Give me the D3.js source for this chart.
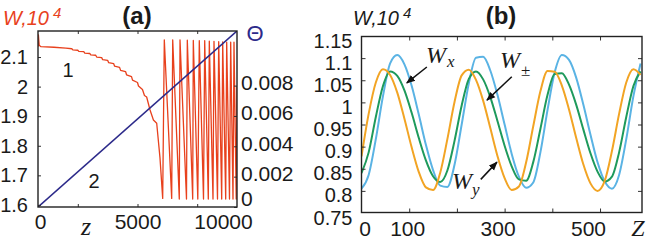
<!DOCTYPE html>
<html><head><meta charset="utf-8">
<script src="https://cdn.jsdelivr.net/npm/d3@7"></script>
<style>
body{margin:0;background:#fff}
svg{display:block}
text{font-family:"Liberation Sans",Arial,sans-serif;fill:#1a1a1a}
</style>
</head><body>
<svg id="c" width="649" height="241"></svg>
<script>
// ---------- Panel (a) data ----------
const redZ = [0,20,60,150,800,1400,1700,1750,2000,2050,2300,2350,2600,2650,2900,2950,3200,3250,3500,3550,3800,3850,4100,4150,4400,4450,4700,4750,5000,5050,5250,5350,5460,5630,5800,5965,6130,6266,6347,6718,6769,7100,7136,7462,7503,7774,7804,8030,8105,8317,8377,8558,8608,8794,8844,9020,9080,9231,9281,9432,9482,9623,9683,9799,9849,9960,10000];
const redW = [2.135,2.175,2.14,2.135,2.133,2.130,2.128,2.124,2.123,2.119,2.118,2.113,2.112,2.107,2.106,2.100,2.098,2.091,2.089,2.081,2.078,2.069,2.065,2.055,2.051,2.040,2.034,2.022,2.014,2.002,1.99,1.97,1.965,1.921,1.887,1.876,1.759,1.622,2.158,1.622,2.158,1.62,2.158,1.62,2.157,1.62,2.156,1.62,2.155,1.62,2.155,1.62,2.154,1.62,2.153,1.62,2.152,1.62,2.151,1.62,2.15,1.62,2.15,1.62,2.15,1.62,2.0];
const thetaZ = [0,10000];
const thetaV = [0,0.0116];
const aXLabels = [0,5000,10000];
const aXMinor = [2000,5000,8000];
const aYTicks = [1.6,1.7,1.8,1.9,2,2.1];
const aThetaTicks = [0,0.002,0.004,0.006,0.008];

// ---------- Panel (b) data ----------
const bZ = [0,15,30,45,60,75,90,105,120,135,150,165,180,195,210,225,240,255,270,285,300,315,330,345,360,375,390,405,420,435,450,465,480,495,510,525,540,555,570,585];
const wX = [0.805,0.836,0.917,1.014,1.088,1.107,1.086,1.038,0.973,0.904,0.847,0.812,0.809,0.859,0.950,1.043,1.101,1.103,1.072,1.017,0.950,0.883,0.832,0.807,0.819,0.887,0.983,1.068,1.107,1.096,1.056,0.995,0.927,0.864,0.821,0.805,0.836,0.917,1.014,1.088];
const wPM = [0.840,0.887,0.967,1.037,1.070,1.060,1.027,0.977,0.920,0.869,0.833,0.820,0.846,0.913,0.993,1.053,1.070,1.052,1.012,0.958,0.902,0.855,0.826,0.823,0.865,0.940,1.017,1.064,1.066,1.040,0.995,0.939,0.885,0.843,0.821,0.832,0.887,0.967,1.037,1.070];
const wY = [0.878,0.974,1.045,1.075,1.062,1.022,0.963,0.899,0.843,0.808,0.802,0.841,0.917,1.001,1.061,1.074,1.051,1.004,0.942,0.879,0.829,0.802,0.810,0.864,0.946,1.025,1.071,1.069,1.038,0.984,0.920,0.860,0.817,0.800,0.823,0.890,0.974,1.045,1.075,1.062];
const bYTicks = [0.75,0.8,0.85,0.9,0.95,1,1.05,1.1,1.15];
const bXLabels = [0,100,300,500];
const bXMinor = [100,200,300,400,500];
// arrows: [label, tailZ, tailW, headZ, headW]
const arrows = [["x",137,1.080,95,1.044],["pm",315,1.058,263,1.005],["y",250,0.826,284,0.865]];

const svg = d3.select("#c");
const C = {red:"#e8411d", navy:"#2c2a8a", blue:"#5ab3e4", green:"#1e9a5c", orange:"#f2a424"};

// ---------- Panel (a) ----------
const xa = d3.scaleLinear().domain([0,10000]).range([38,237]);
const ya = d3.scaleLinear().domain([1.593,2.188]).range([207,31]);
const ta = d3.scaleLinear().domain([0,0.0116]).range([207,31]);

const defs = svg.append("defs");
defs.append("clipPath").attr("id","ca").append("rect").attr("x",38).attr("y",31).attr("width",199).attr("height",176);
defs.append("clipPath").attr("id","cb").append("rect").attr("x",361.5).attr("y",36.5).attr("width",280.5).attr("height",176);
defs.append("marker").attr("id","ah").attr("viewBox","0 0 10 10").attr("refX",9).attr("refY",5)
  .attr("markerWidth",9).attr("markerHeight",9).attr("orient","auto").attr("markerUnits","userSpaceOnUse")
  .append("path").attr("d","M0,1 L10,5 L0,9 Z").attr("fill","#111");

const ga = svg.append("g");
ga.append("g").attr("clip-path","url(#ca)").append("path")
  .datum(redZ.map((z,i)=>[z,redW[i]]))
  .attr("d",d3.line().x(d=>xa(d[0])).y(d=>ya(d[1])))
  .attr("fill","none").attr("stroke",C.red).attr("stroke-width",1.3).attr("stroke-linejoin","round");
ga.append("g").attr("clip-path","url(#ca)").append("path")
  .datum(thetaZ.map((z,i)=>[z,thetaV[i]]))
  .attr("d",d3.line().x(d=>xa(d[0])).y(d=>ta(d[1])))
  .attr("fill","none").attr("stroke",C.navy).attr("stroke-width",1.6);

function styleAxis(g, fs){
  g.select(".domain").remove();
  g.selectAll(".tick line").attr("stroke","#333").attr("stroke-width",1);
  g.selectAll(".tick text").attr("font-size",fs).attr("fill","#1a1a1a").attr("font-family","'Liberation Sans',Arial,sans-serif");
}
// left
const aL = ga.append("g").attr("transform","translate(38,0)")
  .call(d3.axisLeft(ya).tickValues(aYTicks).tickFormat(d=>String(d)).tickSize(-3).tickPadding(10));
styleAxis(aL,20);
// right theta
const aR = ga.append("g").attr("transform","translate(237,0)")
  .call(d3.axisRight(ta).tickValues(aThetaTicks).tickFormat(d=>d===0?"0":d.toFixed(3)).tickSize(-3).tickPadding(4));
styleAxis(aR,21);
aR.selectAll(".tick text").attr("dy","0.18em");
aR.selectAll(".tick text").filter(d=>d===0).attr("dy","-0.05em");
// bottom labels
const aB = ga.append("g").attr("transform","translate(0,207)")
  .call(d3.axisBottom(xa).tickValues(aXLabels).tickFormat(d=>String(d)).tickSize(0).tickPadding(7));
styleAxis(aB,21);
aB.selectAll(".tick text").filter(d=>d===10000).attr("dx",-14);
aB.selectAll(".tick text").filter(d=>d===0).attr("dx",2);
const aBm = ga.append("g").attr("transform","translate(0,207)")
  .call(d3.axisBottom(xa).tickValues(aXMinor).tickFormat("").tickSize(-3));
styleAxis(aBm,10);
const aTm = ga.append("g").attr("transform","translate(0,31)")
  .call(d3.axisTop(xa).tickValues(aXMinor).tickFormat("").tickSize(-3));
styleAxis(aTm,10);
ga.append("rect").attr("x",38).attr("y",31).attr("width",199).attr("height",176)
  .attr("fill","none").attr("stroke","#222").attr("stroke-width",1.4);

// texts panel a
const ta1 = ga.append("text").attr("x",3).attr("y",25).attr("font-size",20).attr("font-style","italic").style("fill",C.red);
ta1.append("tspan").text("W,10");
ta1.append("tspan").attr("dx",4).attr("dy",-7).attr("font-size",15).text("4");
ga.append("text").attr("x",137).attr("y",24).attr("text-anchor","middle").attr("font-size",24).attr("font-weight","bold").text("(a)");
ga.append("text").attr("x",255).attr("y",41).attr("text-anchor","middle").attr("font-size",22).style("fill",C.navy).text("Θ");
ga.append("text").attr("x",68).attr("y",77).attr("text-anchor","middle").attr("font-size",20).text("1");
ga.append("text").attr("x",94).attr("y",188).attr("text-anchor","middle").attr("font-size",20).text("2");
ga.append("text").attr("x",86).attr("y",235).attr("text-anchor","middle").attr("font-size",26)
  .attr("font-style","italic").style("font-family","'Liberation Serif',serif").text("z");

// ---------- Panel (b) ----------
const xb = d3.scaleLinear().domain([0,588]).range([361.5,642]);
const yb = d3.scaleLinear().domain([0.75,1.15]).range([213,36]);
const gb = svg.append("g");
const lineB = d3.line().x((d,i)=>xb(bZ[i])).y(d=>yb(d)).curve(d3.curveMonotoneX);
const cb = gb.append("g").attr("clip-path","url(#cb)");
[[wX,C.blue],[wPM,C.green],[wY,C.orange]].forEach(([s,col])=>{
  cb.append("path").datum(s).attr("d",lineB).attr("fill","none").attr("stroke",col).attr("stroke-width",2).attr("stroke-linejoin","round");
});

const bL = gb.append("g").attr("transform","translate(361.5,0)")
  .call(d3.axisLeft(yb).tickValues(bYTicks).tickFormat(d=>String(d)).tickSize(-4).tickPadding(9));
styleAxis(bL,20);
bL.selectAll(".tick text").attr("dy","0.55em");
bL.selectAll(".tick").filter(d=>d===0.75||d===1.15).select("line").remove();
const bR = gb.append("g").attr("transform","translate(642,0)")
  .call(d3.axisRight(yb).tickValues(bYTicks.slice(1,-1)).tickFormat("").tickSize(-4));
styleAxis(bR,10);
const bB = gb.append("g").attr("transform","translate(0,212.5)")
  .call(d3.axisBottom(xb).tickValues(bXLabels).tickFormat(d=>String(d)).tickSize(0).tickPadding(9));
styleAxis(bB,21);
const bdx = {0:3,100:-2,300:-7,500:-12};
bB.selectAll(".tick text").attr("dx",d=>bdx[d]);
const bBm = gb.append("g").attr("transform","translate(0,212.5)")
  .call(d3.axisBottom(xb).tickValues(bXMinor).tickFormat("").tickSize(-4));
styleAxis(bBm,10);
const bTm = gb.append("g").attr("transform","translate(0,36.5)")
  .call(d3.axisTop(xb).tickValues(bXMinor).tickFormat("").tickSize(-4));
styleAxis(bTm,10);
gb.append("rect").attr("x",361.5).attr("y",36.5).attr("width",280.5).attr("height",176)
  .attr("fill","none").attr("stroke","#222").attr("stroke-width",1.4);

const tb1 = gb.append("text").attr("x",353).attr("y",25).attr("font-size",20).attr("font-style","italic");
tb1.append("tspan").text("W,10");
tb1.append("tspan").attr("dx",4).attr("dy",-7).attr("font-size",15).text("4");
gb.append("text").attr("x",501).attr("y",24).attr("text-anchor","middle").attr("font-size",24).attr("font-weight","bold").text("(b)");
gb.append("text").attr("x",638).attr("y",236).attr("text-anchor","middle").attr("font-size",24)
  .attr("font-style","italic").style("font-family","'Liberation Serif',serif").text("Z");

// arrows
arrows.forEach(a=>{
  gb.append("line").attr("x1",xb(a[1])).attr("y1",yb(a[2])).attr("x2",xb(a[3])).attr("y2",yb(a[4]))
    .attr("stroke","#111").attr("stroke-width",1.5).attr("marker-end","url(#ah)");
});
// curve labels
function wlab(x,y,sub,subItalic,sx,sy){
  const t = gb.append("text").attr("x",x).attr("y",y).attr("font-size",24).attr("font-style","italic").style("font-family","'Liberation Serif',serif");
  t.append("tspan").text("W");
  t.append("tspan").attr("x",x+sx).attr("y",y+sy).attr("font-size",17).attr("font-style",subItalic?"italic":"normal").text(sub);
}
wlab(426,63,"x",true,21,4);
wlab(500,68,"±",false,21,8);
wlab(452,189,"y",true,20,6);
</script>
</body></html>
